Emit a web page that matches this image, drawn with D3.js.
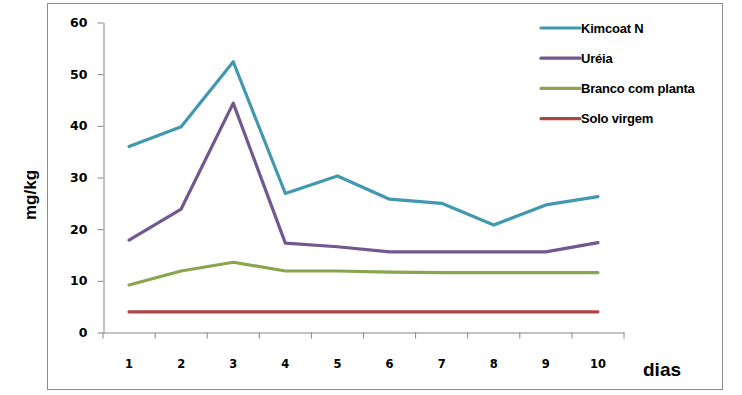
<!DOCTYPE html>
<html>

<head>
    <meta charset="utf-8">
    <script src="https://d3js.org/d3.v7.min.js"></script>
    <style>
        body { margin: 0; background: #fff; }
        .tick text { font-family: "DejaVu Sans", Tahoma, sans-serif; font-weight: bold; fill: #000; }
    </style>
</head>

<body>
    <script type="text/javascript">
        let dias = [1, 2, 3, 4, 5, 6, 7, 8, 9, 10];
        let yTicks = [0, 10, 20, 30, 40, 50, 60];
        let kimcoat = [36.0, 39.8, 52.4, 26.9, 30.3, 25.8, 25.0, 20.8, 24.7, 26.3];
        let ureia = [17.9, 23.9, 44.4, 17.3, 16.6, 15.6, 15.6, 15.6, 15.6, 17.4];
        let branco = [9.2, 11.9, 13.6, 11.9, 11.9, 11.7, 11.6, 11.6, 11.6, 11.6];
        let solo = [4.0, 4.0, 4.0, 4.0, 4.0, 4.0, 4.0, 4.0, 4.0, 4.0];
        let seriesNames = ["Kimcoat N", "Uréia", "Branco com planta", "Solo virgem"];
        let seriesColors = ["#4198AF", "#71588F", "#89A54E", "#AA4643"];

        let series = [kimcoat, ureia, branco, solo].map((v, i) => ({
            name: seriesNames[i], color: seriesColors[i], values: v
        }));

        let width = 742, height = 395;
        let svg = d3.select("body").append("svg")
            .attr("width", width)
            .attr("height", height);

        // outer frame
        svg.append("rect")
            .attr("x", 47.5).attr("y", 3.5)
            .attr("width", 675).attr("height", 386)
            .attr("fill", "none")
            .attr("stroke", "#8c8c8c")
            .attr("stroke-width", 1);

        let x = d3.scaleBand().domain(dias).range([103, 624]);
        let y = d3.scaleLinear().domain([0, 60]).range([332.5, 22.5]);

        let xAxis = svg.append("g")
            .attr("transform", "translate(0,332.5)")
            .call(d3.axisBottom(x).tickSize(0).tickPadding(27));
        xAxis.select(".domain").attr("stroke", "#868686");
        xAxis.selectAll(".tick text").style("font-size", "11.5px");
        // ticks between categories
        xAxis.selectAll(".sep")
            .data(d3.range(dias.length + 1))
            .join("line")
            .attr("class", "sep")
            .attr("x1", i => 103 + i * x.step())
            .attr("x2", i => 103 + i * x.step())
            .attr("y1", 0).attr("y2", 6)
            .attr("stroke", "#868686");

        let yAxis = svg.append("g")
            .attr("transform", "translate(103.5,0)")
            .call(d3.axisLeft(y).tickValues(yTicks).tickSize(6).tickSizeOuter(0).tickPadding(10));
        yAxis.select(".domain").attr("stroke", "#868686");
        yAxis.selectAll(".tick line").attr("stroke", "#868686");
        yAxis.selectAll(".tick text").style("font-size", "12.5px");

        let line = d3.line()
            .x((d, i) => x(dias[i]) + x.bandwidth() / 2)
            .y(d => y(d));

        svg.selectAll(".series")
            .data(series.slice().reverse())
            .join("path")
            .attr("class", "series")
            .attr("d", d => line(d.values))
            .attr("fill", "none")
            .attr("stroke", d => d.color)
            .attr("stroke-width", 3.2)
            .attr("stroke-linejoin", "round")
            .attr("stroke-linecap", "round");

        // legend
        let legend = svg.selectAll(".legend")
            .data(series)
            .join("g")
            .attr("class", "legend")
            .attr("transform", (d, i) => `translate(540,${28 + i * 30.2})`);
        legend.append("line")
            .attr("x1", 1).attr("x2", 40)
            .attr("stroke", d => d.color)
            .attr("stroke-width", 3.2)
            .attr("stroke-linecap", "round");
        legend.append("text")
            .attr("x", 41).attr("y", 4.5)
            .style("font-family", "'Liberation Sans', Arial, sans-serif")
            .style("font-weight", "bold")
            .style("font-size", "13px")
            .style("letter-spacing", "-0.2px")
            .text(d => d.name);

        svg.append("text")
            .attr("transform", "translate(36,195) rotate(-90)")
            .attr("text-anchor", "middle")
            .style("font-family", "'Liberation Sans', Arial, sans-serif")
            .style("font-weight", "bold")
            .style("font-size", "17px")
            .text("mg/kg");

        svg.append("text")
            .attr("x", 643).attr("y", 376)
            .style("font-family", "'Liberation Sans', Arial, sans-serif")
            .style("font-weight", "bold")
            .style("font-size", "19px")
            .text("dias");
    </script>
</body>

</html>
